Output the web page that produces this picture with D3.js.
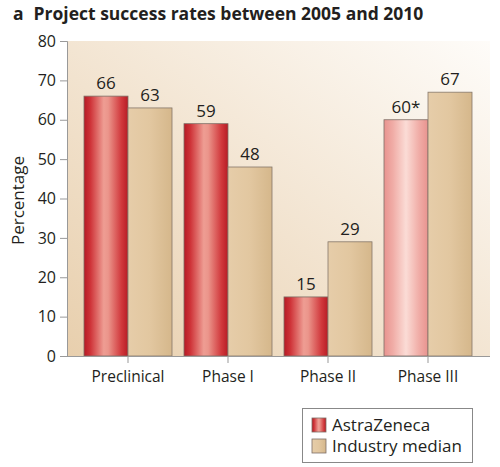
<!DOCTYPE html>
<html>
<head>
<meta charset="utf-8">
<script src="https://cdn.jsdelivr.net/npm/d3@7"></script>
<style>
  body { margin: 0; background: #fff; }
  svg { display: block; font-family: "Open Sans", "Noto Sans", sans-serif; }
</style>
</head>
<body>
<svg width="500" height="467"></svg>
<script>
// chart data
const phases = ["Preclinical", "Phase I", "Phase II", "Phase III"];
const astra = [66, 59, 15, 60];
const industry = [63, 48, 29, 67];
const astraLabels = ["66", "59", "15", "60*"];
const yTicks = [0, 10, 20, 30, 40, 50, 60, 70, 80];

const svg = d3.select("svg");
const plotL = 67, plotR = 490, plotT = 41, plotB = 356;

const x = d3.scaleBand().domain(phases).range([78, 478])
  .paddingInner(0.12).paddingOuter(0.06);
const sub = d3.scaleBand().domain(["az", "ind"]).range([0, x.bandwidth()]);
const y = d3.scaleLinear().domain([0, 80]).range([plotB, plotT]);

// gradients
const defs = svg.append("defs");
const bg = defs.append("linearGradient").attr("id", "bg")
  .attr("x1", 0).attr("y1", 1).attr("x2", 1).attr("y2", 0);
bg.append("stop").attr("offset", "0%").attr("stop-color", "#e8cfad");
bg.append("stop").attr("offset", "45%").attr("stop-color", "#f2e3cf");
bg.append("stop").attr("offset", "100%").attr("stop-color", "#fefcf9");

function hGrad(id, stops) {
  const g = defs.append("linearGradient").attr("id", id)
    .attr("x1", 0).attr("y1", 0).attr("x2", 1).attr("y2", 0);
  stops.forEach(s => g.append("stop").attr("offset", s[0]).attr("stop-color", s[1]));
}
hGrad("red", [["0%", "#b51a24"], ["15%", "#cf3439"], ["45%", "#ee9d93"], ["55%", "#eb958b"], ["85%", "#d1383c"], ["100%", "#b71c25"]]);
hGrad("pink", [["0%", "#e8938f"], ["20%", "#f0aca6"], ["50%", "#fbdcd6"], ["80%", "#f0aca6"], ["100%", "#e8938f"]]);
hGrad("tan", [["0%", "#e6cda9"], ["50%", "#e2c7a0"], ["100%", "#d5b78b"]]);

// background panel
svg.append("rect")
  .attr("x", plotL).attr("y", plotT)
  .attr("width", plotR - plotL).attr("height", plotB - plotT)
  .attr("fill", "url(#bg)");

// title
svg.append("text")
  .attr("x", 13).attr("y", 20)
  .attr("font-size", 17.5).attr("font-weight", "bold").attr("fill", "#231f20")
  .text("a")
  .append("tspan").attr("dx", 10)
  .text("Project success rates between 2005 and 2010");

// y axis
const yAxis = svg.append("g")
  .attr("transform", `translate(${plotL},0)`)
  .call(d3.axisLeft(y).tickValues(yTicks).tickSize(7).tickPadding(4));
yAxis.select(".domain").attr("stroke", "#999");
yAxis.selectAll(".tick line").attr("stroke", "#999");
yAxis.selectAll(".tick text").attr("font-size", 16).attr("fill", "#231f20")
  .attr("font-family", "Open Sans, sans-serif");

svg.append("text")
  .attr("transform", `translate(24,${(plotT + plotB) / 2 + 2}) rotate(-90)`)
  .attr("text-anchor", "middle")
  .attr("font-size", 17).attr("fill", "#231f20")
  .text("Percentage");

// bars
const groups = svg.selectAll(".grp")
  .data(phases)
  .join("g")
  .attr("class", "grp")
  .attr("transform", d => `translate(${x(d)},0)`);

groups.append("rect")
  .attr("x", sub("az"))
  .attr("y", (d, i) => y(astra[i]))
  .attr("width", sub.bandwidth())
  .attr("height", (d, i) => plotB - y(astra[i]))
  .attr("fill", (d, i) => i === 3 ? "url(#pink)" : "url(#red)")
  .attr("stroke", "#7d6e66").attr("stroke-width", 0.8);

groups.append("rect")
  .attr("x", sub("ind"))
  .attr("y", (d, i) => y(industry[i]))
  .attr("width", sub.bandwidth())
  .attr("height", (d, i) => plotB - y(industry[i]))
  .attr("fill", "url(#tan)")
  .attr("stroke", "#85776a").attr("stroke-width", 0.8);

groups.append("text")
  .attr("x", sub("az") + sub.bandwidth() / 2)
  .attr("y", (d, i) => y(astra[i]) - 7)
  .attr("text-anchor", "middle")
  .attr("font-size", 17).attr("fill", "#231f20")
  .text((d, i) => astraLabels[i]);

groups.append("text")
  .attr("x", sub("ind") + sub.bandwidth() / 2)
  .attr("y", (d, i) => y(industry[i]) - 7)
  .attr("text-anchor", "middle")
  .attr("font-size", 17).attr("fill", "#231f20")
  .text((d, i) => industry[i]);

// x axis
const xAxis = svg.append("g")
  .attr("transform", `translate(0,${plotB})`)
  .call(d3.axisBottom(x).tickSize(7).tickPadding(8).tickSizeOuter(0));
xAxis.select(".domain").attr("d", `M${plotL},0.5H${plotR}`).attr("stroke", "#999");
xAxis.selectAll(".tick line").attr("stroke", "#999");
xAxis.selectAll(".tick text").attr("font-size", 15.5).attr("fill", "#231f20")
  .attr("font-family", "Open Sans, sans-serif");

// legend
const legend = svg.append("g").attr("transform", "translate(302,408)");
legend.append("rect")
  .attr("x", 0.5).attr("y", 0.5).attr("width", 170).attr("height", 54)
  .attr("fill", "#fff").attr("stroke", "#888");
const items = [["AstraZeneca", "url(#red)"], ["Industry median", "url(#tan)"]];
items.forEach((it, i) => {
  legend.append("rect")
    .attr("x", 10).attr("y", 10 + i * 21)
    .attr("width", 14).attr("height", 14)
    .attr("fill", it[1]).attr("stroke", "#7d6e66").attr("stroke-width", 0.8);
  legend.append("text")
    .attr("x", 30).attr("y", 23 + i * 21)
    .attr("font-size", 17).attr("fill", "#231f20")
    .text(it[0]);
});
</script>
</body>
</html>
